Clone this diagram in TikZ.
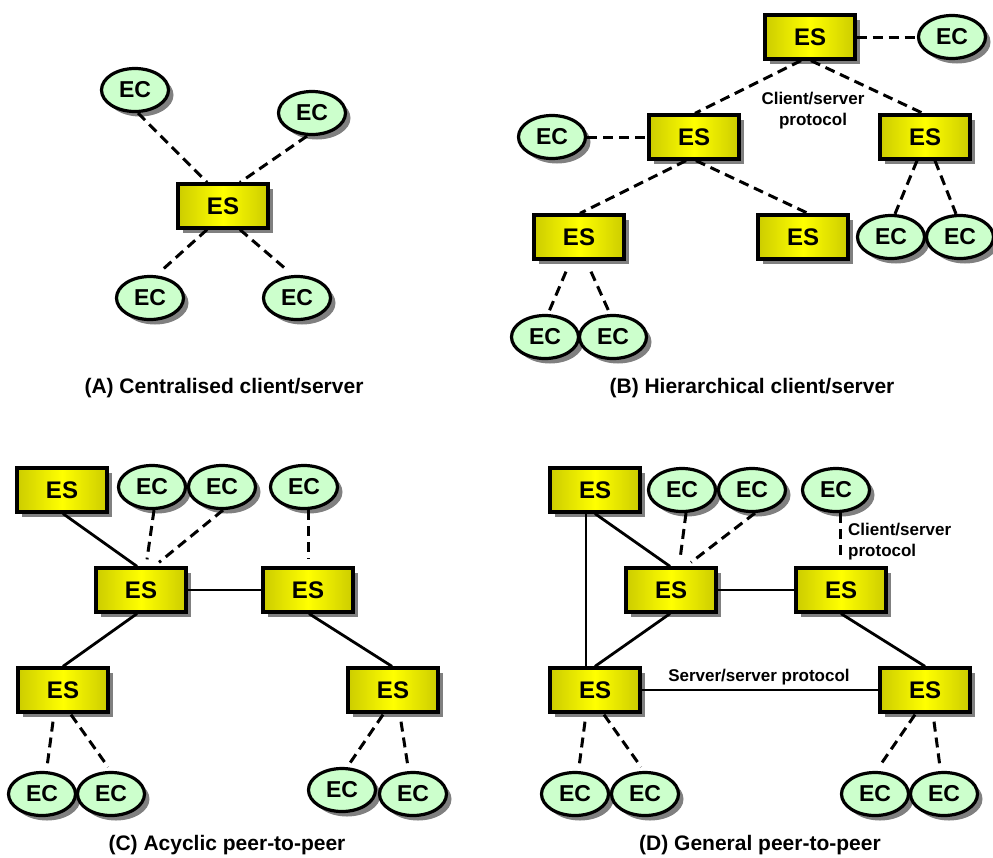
\documentclass[tikz,border=0pt]{standalone}
\usepackage{fontspec}
\setmainfont{Liberation Sans}
\usetikzlibrary{shapes.geometric,shadows}

\definecolor{ecgreen}{RGB}{204,255,204}
\definecolor{esedge}{RGB}{204,204,0}
\definecolor{shadowgray}{RGB}{128,128,128}

\tikzset{
  esbox/.style={rectangle, draw=black, line width=3.3pt,
    left color=esedge, right color=esedge, middle color=yellow,
    minimum width=90pt, minimum height=44pt, inner sep=0pt,
    font=\bfseries\fontsize{24}{28}\selectfont,
    drop shadow={shadow xshift=5pt, shadow yshift=-5pt, fill=shadowgray, opacity=1}},
  ecnode/.style={ellipse, draw=black, line width=3.2pt, fill=ecgreen,
    minimum width=67pt, minimum height=43pt, inner sep=0pt,
    font=\bfseries\fontsize{23}{27}\selectfont,
    drop shadow={shadow xshift=5pt, shadow yshift=-5pt, fill=shadowgray, opacity=1}},
  cslink/.style={line width=3pt, dash pattern=on 10pt off 6pt},
  sslink/.style={line width=2.8pt},
  caption/.style={font=\bfseries\fontsize{21}{25}\selectfont},
  protolabel/.style={font=\bfseries\fontsize{17}{21}\selectfont, inner sep=0pt}
}

\begin{document}
\begin{tikzpicture}[x=1pt, y=-1pt]
\useasboundingbox (0,0) rectangle (993,857);

% ---------------- (A) centralised client/server ----------------
\node[esbox] (esA) at (223,206) {ES};
\node[ecnode] (ecA1) at (135,90) {EC};
\node[ecnode] (ecA2) at (312,113) {EC};
\node[ecnode] (ecA3) at (150,298) {EC};
\node[ecnode] (ecA4) at (297,298) {EC};
\draw[cslink] ([xshift=3pt]ecA1.south) -- ([xshift=-16pt]esA.north);
\draw[cslink] ([xshift=-5pt]ecA2.south) -- ([xshift=17pt]esA.north);
\draw[cslink] ([xshift=-16pt]esA.south) -- ([xshift=10pt,yshift=3pt]ecA3.north);
\draw[cslink] ([xshift=17pt]esA.south) -- ([xshift=-9pt,yshift=4pt]ecA4.north);
\node[caption] (capA) at (224,388) {(A) Centralised client/server};

% ---------------- (B) hierarchical client/server ----------------
\node[esbox] (esB1) at (810,37) {ES};
\node[ecnode] (ecB1) at (952,37) {EC};
\node[esbox] (esB2) at (694,137) {ES};
\node[ecnode] (ecB2) at (552,137) {EC};
\node[esbox] (esB3) at (925,137) {ES};
\node[esbox] (esB4) at (579,237) {ES};
\node[esbox] (esB5) at (803,237) {ES};
\node[ecnode] (ecB3) at (891,237) {EC};
\node[ecnode] (ecB4) at (960,237) {EC};
\node[ecnode] (ecB5) at (545,337) {EC};
\node[ecnode] (ecB6) at (613,337) {EC};
\draw[cslink] (esB1.east) -- (ecB1.west);
\draw[cslink] (ecB2.east) -- (esB2.west);
\draw[cslink] ([xshift=-9pt]esB1.south) -- ([xshift=1pt]esB2.north);
\draw[cslink] ([xshift=1pt]esB1.south) -- ([xshift=-2pt]esB3.north);
\draw[cslink] ([xshift=-8pt]esB2.south) -- ([xshift=1pt]esB4.north);
\draw[cslink] ([xshift=2pt]esB2.south) -- ([xshift=5pt]esB5.north);
\draw[cslink] ([xshift=-8pt]esB3.south) -- ([xshift=4pt]ecB3.north);
\draw[cslink] ([xshift=10pt]esB3.south) -- ([xshift=-4pt]ecB4.north);
\draw[cslink] ([xshift=-13pt,yshift=-11pt]esB4.south) -- ([xshift=3pt]ecB5.north);
\draw[cslink] ([xshift=12pt,yshift=-11pt]esB4.south) -- ([xshift=-3pt]ecB6.north);
\node[protolabel, align=center] (lblB) at (813,111) {Client/server\\protocol};
\node[caption] (capB) at (752,388) {(B) Hierarchical client/server};

% ---------------- (C) acyclic peer-to-peer ----------------
\node[esbox] (esC1) at (62,490) {ES};
\node[ecnode] (ecC1) at (152,487) {EC};
\node[ecnode] (ecC2) at (222,487) {EC};
\node[ecnode] (ecC3) at (304,487) {EC};
\node[esbox] (esC2) at (141,590) {ES};
\node[esbox] (esC3) at (308,590) {ES};
\node[esbox] (esC4) at (63,690) {ES};
\node[esbox] (esC5) at (393,690) {ES};
\node[ecnode] (ecC4) at (42,794) {EC};
\node[ecnode] (ecC5) at (111,794) {EC};
\node[ecnode] (ecC6) at (342,790) {EC};
\node[ecnode] (ecC7) at (413,794) {EC};
\draw[sslink] ([xshift=1pt]esC1.south) -- ([xshift=-4pt]esC2.north);
\draw[cslink] ([xshift=2pt]ecC1.south) -- ([xshift=6pt,yshift=7pt]esC2.north);
\draw[cslink] ([xshift=1pt]ecC2.south) -- ([xshift=18pt,yshift=4pt]esC2.north);
\draw[cslink] ([xshift=4pt]ecC3.south) -- ([yshift=7pt]esC3.north);
\draw[sslink] (esC2.east) -- (esC3.west);
\draw[sslink] ([xshift=-4pt]esC2.south) -- (esC4.north);
\draw[sslink] ([xshift=1pt]esC3.south) -- ([xshift=-1pt]esC5.north);
\draw[cslink] ([xshift=-10pt,yshift=-8pt]esC4.south) -- ([xshift=5pt,yshift=4pt]ecC4.north);
\draw[cslink] ([xshift=8pt,yshift=-1pt]esC4.south) -- ([xshift=-3pt,yshift=4pt]ecC5.north);
\draw[cslink] ([xshift=-10pt,yshift=-1pt]esC5.south) -- ([xshift=6pt,yshift=1pt]ecC6.north);
\draw[cslink] ([xshift=8pt,yshift=-8pt]esC5.south) -- ([xshift=-5pt,yshift=4pt]ecC7.north);
\node[caption] (capC) at (227,845) {(C) Acyclic peer-to-peer};

% ---------------- (D) general peer-to-peer ----------------
\node[esbox] (esD1) at (595,490) {ES};
\node[ecnode] (ecD1) at (682,490) {EC};
\node[ecnode] (ecD2) at (752,490) {EC};
\node[ecnode] (ecD3) at (836,490) {EC};
\node[esbox] (esD2) at (671,590) {ES};
\node[esbox] (esD3) at (841,590) {ES};
\node[esbox] (esD4) at (595,690) {ES};
\node[esbox] (esD5) at (925,690) {ES};
\node[ecnode] (ecD4) at (575,794) {EC};
\node[ecnode] (ecD5) at (645,794) {EC};
\node[ecnode] (ecD6) at (875,794) {EC};
\node[ecnode] (ecD7) at (944,794) {EC};
\draw[sslink] ([xshift=-9pt]esD1.south) -- ([xshift=-9pt]esD4.north);
\draw[sslink] (esD1.south) -- ([xshift=-1pt]esD2.north);
\draw[cslink] ([xshift=4pt]ecD1.south) -- ([xshift=9pt,yshift=7pt]esD2.north);
\draw[cslink] ([xshift=3pt]ecD2.south) -- ([xshift=20pt,yshift=4pt]esD2.north);
\draw[cslink] ([xshift=4pt]ecD3.south) -- ([xshift=-1pt,yshift=7pt]esD3.north);
\draw[sslink] (esD2.east) -- (esD3.west);
\draw[sslink] ([xshift=-1pt]esD2.south) -- (esD4.north);
\draw[sslink] (esD3.south) -- (esD5.north);
\draw[sslink] (esD4.east) -- (esD5.west);
\draw[cslink] ([xshift=-10pt,yshift=-8pt]esD4.south) -- ([xshift=4pt,yshift=4pt]ecD4.north);
\draw[cslink] ([xshift=9pt,yshift=-1pt]esD4.south) -- ([xshift=-4pt,yshift=4pt]ecD5.north);
\draw[cslink] ([xshift=-10pt,yshift=-1pt]esD5.south) -- ([xshift=4pt,yshift=4pt]ecD6.north);
\draw[cslink] ([xshift=9pt,yshift=-8pt]esD5.south) -- ([xshift=-4pt,yshift=4pt]ecD7.north);
\node[protolabel, align=left, anchor=west] (lblD1) at (848,542) {Client/server\\protocol};
\node[protolabel] (lblD2) at (759,677) {Server/server protocol};
\node[caption] (capD) at (760,845) {(D) General peer-to-peer};

\end{tikzpicture}
\end{document}
